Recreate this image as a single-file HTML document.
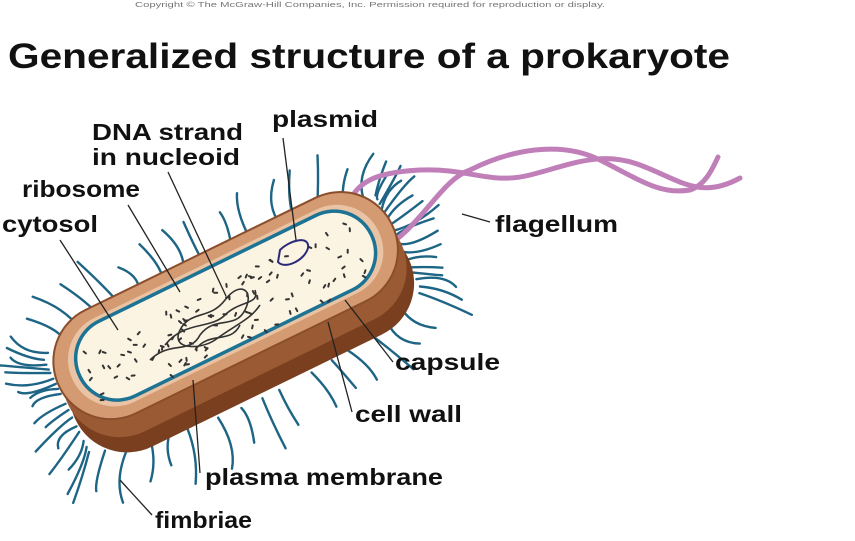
<!DOCTYPE html>
<html><head><meta charset="utf-8"><style>
body{margin:0;background:#fff;width:855px;height:541px;overflow:hidden;font-family:"Liberation Sans",sans-serif}
svg{display:block}
.l{font-weight:bold;font-size:23px;fill:#111}
.ln{stroke:#222;stroke-width:1.3;fill:none}
</style></head><body>
<svg width="855" height="541" viewBox="0 0 855 541" xmlns="http://www.w3.org/2000/svg">
<text x="135" y="7" font-size="7" fill="#777" textLength="470" lengthAdjust="spacingAndGlyphs">Copyright © The McGraw-Hill Companies, Inc. Permission required for reproduction or display.</text>
<text x="8" y="68" font-size="35" font-weight="bold" fill="#111" textLength="722" lengthAdjust="spacingAndGlyphs">Generalized structure of a prokaryote</text>
<g id="hairs" stroke="#1e6585" stroke-width="2.4" fill="none" stroke-linecap="round"></g>
<g fill="none" stroke="#c07fb8" stroke-width="5" stroke-linecap="round">
<path d="M347 212 C352 180 380 172 420 170 C470 168 490 185 530 175 C570 165 600 150 640 165 C680 180 700 200 740 178"/>
<path d="M380 250 C420 230 440 180 470 170 C510 150 560 140 600 160 C640 180 660 195 690 190 C705 185 712 170 718 157"/>
</g>
<g transform="rotate(-26 228 315)">
<rect x="45" y="285" width="370" height="115" rx="57" fill="#7a3f1f"/>
<rect x="45" y="268" width="370" height="115" rx="57" fill="#9a5a33"/>
<rect x="45" y="248" width="370" height="115" rx="57" fill="#d49a72" stroke="#8a4e2c" stroke-width="2"/>
<rect x="60" y="259" width="340" height="93" rx="46" fill="#e9c3a3"/>
<rect x="68" y="264" width="324" height="83" rx="41" fill="#fcf4e2" stroke="#1c7394" stroke-width="3.5"/>
</g>
<g id="dots" stroke="#333" stroke-width="2" stroke-linecap="round"></g>
<g fill="none" stroke="#333" stroke-width="1.6">
<path d="M150 360 C170 340 190 355 200 335 C215 315 235 330 245 310 C255 290 240 280 225 300 C210 320 190 310 180 330 C170 350 200 350 215 340 C235 325 250 320 260 305"/>
<path d="M165 345 C185 320 210 330 225 315 C240 300 260 305 255 290 M195 350 C210 330 230 345 240 325"/>
<path d="M280 250 C290 240 310 235 308 248 C305 260 285 270 278 262 Z" stroke="#2a2a7a" stroke-width="2"/>
</g>
<g class="ln">
<line x1="60" y1="240" x2="118" y2="330"/>
<line x1="128" y1="205" x2="180" y2="292"/>
<line x1="168" y1="172" x2="226" y2="296"/>
<line x1="283" y1="138" x2="296" y2="240"/>
<line x1="490" y1="222" x2="462" y2="214"/>
<line x1="393" y1="362" x2="345" y2="300"/>
<line x1="352" y1="412" x2="328" y2="322"/>
<line x1="200" y1="473" x2="193" y2="380"/>
<line x1="152" y1="515" x2="120" y2="480"/>
</g>
<text class="l" x="92" y="140" textLength="151" lengthAdjust="spacingAndGlyphs">DNA strand</text>
<text class="l" x="92" y="165" textLength="148" lengthAdjust="spacingAndGlyphs">in nucleoid</text>
<text class="l" x="272" y="127" textLength="106" lengthAdjust="spacingAndGlyphs">plasmid</text>
<text class="l" x="22" y="197" textLength="118" lengthAdjust="spacingAndGlyphs">ribosome</text>
<text class="l" x="2" y="232" textLength="96" lengthAdjust="spacingAndGlyphs">cytosol</text>
<text class="l" x="495" y="232" textLength="123" lengthAdjust="spacingAndGlyphs">flagellum</text>
<text class="l" x="395" y="370" textLength="105" lengthAdjust="spacingAndGlyphs">capsule</text>
<text class="l" x="355" y="422" textLength="107" lengthAdjust="spacingAndGlyphs">cell wall</text>
<text class="l" x="205" y="485" textLength="238" lengthAdjust="spacingAndGlyphs">plasma membrane</text>
<text class="l" x="155" y="528" textLength="97" lengthAdjust="spacingAndGlyphs">fimbriae</text>
</svg>
<script>
(function(){
var s=7;function r(){s=(s*9301+49297)%233280;return s/233280;}
var cx=228,cy=315,a=-26*Math.PI/180,ca=Math.cos(a),sa=Math.sin(a);
function tp(x,y){x-=cx;y-=cy;return [cx+x*ca-y*sa,cy+x*sa+y*ca];}
var h='';
var L=185,W=62,N=64;
for(var i=0;i<N;i++){
 var t=(i+r()*0.5)/N*2*Math.PI;
 var px=Math.cos(t),py=Math.sin(t);
 var x=cx+Math.sign(px)*Math.min(Math.abs(px)*1.4,1)*L, y=cy+py*(W+(py>0?28:0));
 var len=30+r()*30;
 var x2=x+px*len*0.9,y2=y+py*len;
 var p0=tp(x,y),p2=tp(x2,y2),pm=tp((x+x2)/2+(r()-.5)*25,(y+y2)/2+(r()-.5)*15);
 h+='<path d="M'+p0[0].toFixed(1)+' '+p0[1].toFixed(1)+' Q'+pm[0].toFixed(1)+' '+pm[1].toFixed(1)+' '+p2[0].toFixed(1)+' '+p2[1].toFixed(1)+'"/>';
}
document.getElementById('hairs').innerHTML=h;
var d='';
for(var j=0;j<110;j++){
 var x=cx-150+r()*300,y=cy-32+r()*64;
 var p=tp(x,y),ang=r()*3.14;
 d+='<line x1="'+p[0].toFixed(1)+'" y1="'+p[1].toFixed(1)+'" x2="'+(p[0]+3*Math.cos(ang)).toFixed(1)+'" y2="'+(p[1]+3*Math.sin(ang)).toFixed(1)+'"/>';
}
document.getElementById('dots').innerHTML=d;
})();
</script>
</body></html>
